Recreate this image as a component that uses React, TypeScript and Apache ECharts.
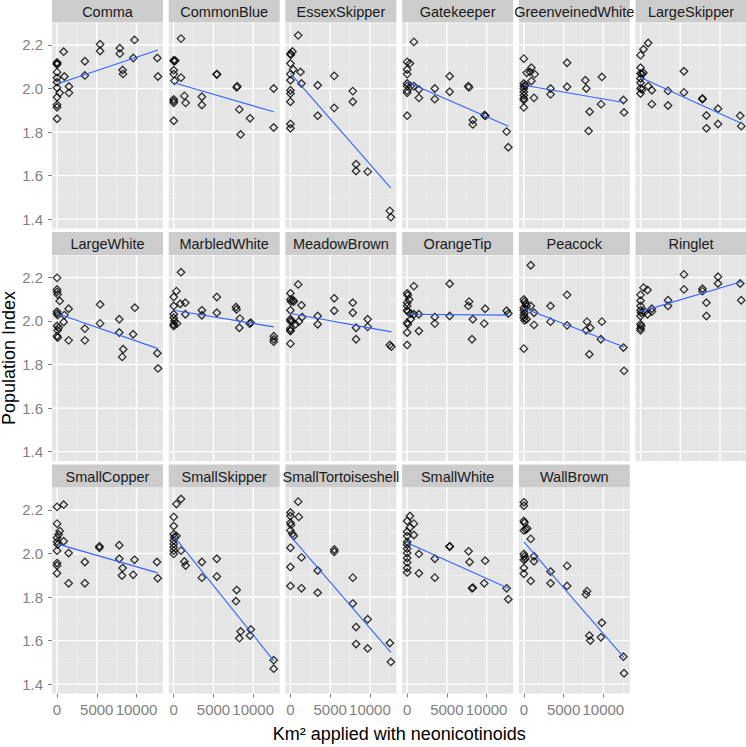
import React, { useEffect, useRef } from "react";
import * as echarts from "echarts";

// ---------- data ----------
const SPECIES = [
  "Comma", "CommonBlue", "EssexSkipper", "Gatekeeper", "GreenveinedWhite", "LargeSkipper",
  "LargeWhite", "MarbledWhite", "MeadowBrown", "OrangeTip", "Peacock", "Ringlet",
  "SmallCopper", "SmallSkipper", "SmallTortoiseshell", "SmallWhite", "WallBrown",
];

const comma = [[0,2.12],[0,2.115],[0,2.11],[833,2.169],[0,2.075],[0,2.049],[0,2.029],[917,2.055],[0,2.003],[333,1.98],[1500,2.009],[1500,1.98],[0,1.96],[0,1.925],[0,1.914],[0,1.861],[3500,2.125],[3500,2.06],[5420,2.203],[5420,2.172],[7900,2.185],[7900,2.16],[8250,2.085],[8300,2.067],[9750,2.223],[9600,2.14],[12620,2.14],[12700,2.055]];
const commonBlue = [[917,2.229],[0,2.13],[50,2.125],[200,2.128],[0,2.084],[0,2.066],[917,2.05],[100,2.035],[0,1.95],[0,1.942],[0,1.934],[1333,1.966],[1500,1.934],[0,1.852],[3540,1.962],[3540,1.924],[5420,2.066],[5420,2.064],[7920,2.005],[7980,2.01],[8250,1.904],[8420,1.789],[9600,1.863],[12580,2.0],[12580,1.821]];
const essexSkipper = [[970,2.244],[0,2.16],[50,2.155],[250,2.17],[0,2.115],[350,2.087],[0,2.066],[1260,2.076],[0,2.038],[1390,2.023],[0,1.992],[0,1.977],[0,1.939],[0,1.837],[0,1.817],[3430,2.015],[3430,1.875],[5510,2.058],[5510,1.911],[7850,1.988],[7850,1.939],[8260,1.652],[8260,1.621],[9720,1.618],[12510,1.438],[12640,1.409]];
const gatekeeper = [[850,2.214],[0,2.122],[350,2.115],[0,2.087],[0,2.066],[0,2.023],[0,2.011],[0,1.99],[0,1.98],[440,2.011],[850,2.011],[1480,1.995],[1480,1.957],[0,1.875],[3480,2.0],[3480,1.951],[5350,2.056],[5350,1.985],[7700,2.011],[7780,2.005],[8270,1.855],[8270,1.835],[9730,1.878],[9850,1.874],[12520,1.802],[12730,1.73]];
const greenveinedWhite = [[0,2.137],[950,2.095],[780,2.076],[1360,2.066],[360,2.072],[950,2.034],[0,2.023],[0,2.011],[0,2.0],[0,1.985],[0,1.969],[0,1.954],[0,1.947],[0,1.913],[200,2.015],[1280,1.957],[3360,2.0],[3360,1.973],[5440,2.118],[5440,2.008],[7740,2.038],[7860,2.0],[8280,1.893],[8150,1.805],[9820,2.053],[9720,1.928],[12530,1.947],[12610,1.89]];
const largeSkipper = [[960,2.209],[375,2.18],[0,2.153],[0,2.095],[0,2.069],[200,2.066],[350,2.072],[0,2.046],[0,2.026],[0,2.0],[200,1.995],[0,1.977],[960,2.011],[1420,1.992],[1420,1.928],[3460,1.989],[3460,1.922],[5460,2.079],[5460,1.982],[7790,1.954],[7790,1.951],[8290,1.876],[8290,1.817],[9750,1.907],[9750,1.837],[12540,1.875],[12670,1.827]];
const largeWhite = [[0,2.198],[0,2.145],[0,2.134],[80,2.122],[333,2.092],[0,2.043],[0,2.034],[80,2.027],[917,2.027],[1458,2.056],[833,1.995],[0,1.977],[200,1.969],[80,1.957],[0,1.931],[80,1.924],[1458,1.911],[3500,1.965],[3500,1.911],[5420,2.076],[5420,1.989],[7830,2.008],[7830,1.947],[8330,1.87],[8200,1.835],[9790,2.061],[9580,1.939],[12625,1.852],[12710,1.782]];
const marbledWhite = [[917,2.224],[333,2.137],[0,2.11],[833,2.079],[0,2.069],[1458,2.084],[0,2.031],[0,2.015],[80,2.0],[0,1.985],[0,1.977],[400,1.988],[1458,2.031],[3540,2.049],[3540,2.026],[5420,2.11],[5420,2.038],[7830,2.064],[7900,2.053],[8330,2.011],[8250,1.969],[9700,1.992],[9550,1.988],[12600,1.93],[12600,1.916],[12580,1.905]];
const meadowBrown = [[970,2.168],[0,2.127],[0,2.099],[350,2.095],[80,2.089],[420,2.089],[1390,2.072],[0,2.049],[0,2.008],[0,2.0],[200,1.997],[1050,1.997],[1470,2.018],[0,1.966],[0,1.957],[0,1.954],[640,1.985],[0,1.896],[3430,2.023],[3430,1.985],[5510,2.104],[5510,2.047],[7850,2.084],[7850,2.038],[8260,1.969],[8260,1.916],[9720,2.008],[9720,1.973],[12500,1.89],[12700,1.882]];
const orangeTip = [[850,2.16],[0,2.127],[80,2.118],[250,2.099],[0,2.084],[0,2.069],[0,2.049],[80,2.043],[440,2.034],[850,2.031],[1480,2.031],[0,1.992],[80,1.985],[0,1.947],[0,1.89],[440,2.008],[1480,1.954],[3480,2.018],[3480,1.988],[5350,2.171],[5350,2.023],[7800,2.089],[7700,2.069],[8270,2.008],[8160,1.916],[9820,2.056],[9700,1.988],[12520,2.047],[12730,2.034]];
const peacock = [[870,2.256],[0,2.099],[80,2.089],[250,2.08],[350,2.069],[0,2.061],[0,2.049],[80,2.038],[0,2.027],[0,2.015],[80,2.003],[350,2.008],[870,2.069],[1280,2.038],[1280,1.982],[0,1.873],[3360,2.069],[3360,1.997],[5440,2.12],[5440,1.98],[7950,1.997],[7820,1.957],[8360,1.969],[8240,1.847],[9820,1.997],[9700,1.916],[12530,1.878],[12610,1.771]];
const ringlet = [[375,2.153],[875,2.142],[0,2.12],[0,2.093],[0,2.069],[0,2.049],[80,2.038],[0,2.023],[0,1.985],[80,1.977],[0,1.966],[0,1.957],[540,2.043],[875,2.031],[1420,2.043],[1420,2.056],[3460,2.095],[3460,2.069],[5460,2.214],[5460,2.145],[7790,2.148],[7790,2.137],[8290,2.084],[8290,2.023],[9750,2.203],[9750,2.172],[12540,2.172],[12670,2.095]];
const smallCopper = [[0,2.214],[833,2.224],[0,2.137],[333,2.103],[200,2.087],[0,2.072],[0,2.053],[80,2.041],[833,2.056],[0,2.013],[1458,2.002],[0,1.956],[0,1.945],[0,1.909],[1458,1.863],[3500,1.961],[3500,1.863],[5330,2.033],[5330,2.026],[7830,2.038],[7830,1.976],[8250,1.933],[8170,1.899],[9750,1.971],[9580,1.902],[12580,1.961],[12670,1.886]];
const smallSkipper = [[333,2.227],[917,2.25],[0,2.168],[0,2.126],[0,2.088],[80,2.075],[0,2.06],[0,2.044],[0,2.029],[0,2.013],[0,1.998],[333,2.08],[917,2.013],[1333,1.963],[1500,1.945],[3540,1.961],[3540,1.889],[5420,1.976],[5420,1.894],[7920,1.832],[7830,1.781],[8420,1.642],[8250,1.611],[9700,1.651],[9600,1.623],[12580,1.51],[12580,1.471]];
const smallTortoiseshell = [[970,2.238],[0,2.188],[0,2.172],[1050,2.168],[0,2.141],[80,2.131],[0,2.106],[250,2.09],[420,2.08],[0,2.026],[0,1.938],[0,1.851],[1390,1.982],[1390,1.84],[3430,1.922],[3430,1.82],[5510,2.018],[5510,2.008],[7850,1.889],[7850,1.77],[8260,1.662],[8260,1.584],[9720,1.698],[9720,1.564],[12510,1.589],[12640,1.502]];
const smallWhite = [[350,2.172],[0,2.149],[850,2.137],[350,2.119],[0,2.1],[850,2.085],[0,2.08],[0,2.053],[0,2.041],[0,2.022],[0,2.002],[0,1.979],[0,1.959],[0,1.933],[0,1.913],[1480,1.998],[1480,1.909],[3480,1.976],[3480,1.889],[5350,2.033],[5350,2.031],[7730,2.01],[7860,1.961],[8270,1.843],[8160,1.84],[9820,1.967],[9700,1.863],[12520,1.84],[12730,1.79]];
const wallBrown = [[0,2.235],[0,2.219],[0,2.149],[80,2.141],[0,2.106],[250,2.11],[420,2.115],[870,2.067],[0,1.998],[80,1.987],[200,1.976],[0,1.971],[1280,1.987],[1280,1.964],[0,1.933],[0,1.907],[870,1.874],[3360,1.917],[3360,1.863],[5440,1.943],[5440,1.851],[7820,1.812],[7950,1.827],[8240,1.623],[8360,1.6],[9820,1.682],[9700,1.615],[12530,1.526],[12610,1.45]];

const POINTS = [
  comma, commonBlue, essexSkipper, gatekeeper, greenveinedWhite, largeSkipper,
  largeWhite, marbledWhite, meadowBrown, orangeTip, peacock, ringlet,
  smallCopper, smallSkipper, smallTortoiseshell, smallWhite, wallBrown,
];

// fitted line values at the smallest and largest x of each panel
const FIT_START = [2.021, 2.026, 2.069, 2.03, 2.015, 2.05, 2.034, 2.049, 2.034, 2.031, 2.058, 2.043, 2.044, 2.08, 2.08, 2.049, 2.053];
const FIT_END = [2.177, 1.893, 1.542, 1.827, 1.936, 1.84, 1.873, 1.973, 1.95, 2.027, 1.881, 2.18, 1.911, 1.507, 1.546, 1.84, 1.522];

const Y_TICKS = [1.4, 1.6, 1.8, 2.0, 2.2];
const Y_MINOR = [1.5, 1.7, 1.9, 2.1, 2.3];
const X_TICKS = [0, 5000, 10000];
const X_MINOR = [2500, 7500, 12500];
const X_RANGE = [-635, 13335];
const Y_RANGE = [1.357, 2.303];

const Y_TITLE = "Population Index";
const X_TITLE = "Km² applied with neonicotinoids";

// ---------- layout ----------
const W = 746;
const H = 747;
const COL_LEFT = 52;
const COL_PITCH = 116.7;
const PANEL_W = 111;
const ROW_TOP = 22.5;
const ROW_PITCH = 232.5;
const PANEL_H = 206;
const STRIP_H = 23;
const FONT = '"Liberation Sans", Arial, sans-serif';

function buildOption() {
  const grid: any[] = [];
  const xAxis: any[] = [];
  const yAxis: any[] = [];
  const series: any[] = [];
  const graphic: any[] = [];

  const gridData = [
    ...Y_MINOR.map((v) => [0, v, 1]),
    ...X_MINOR.map((v) => [v, 2, 3]),
    ...Y_TICKS.map((v) => [0, v, 0]),
    ...X_TICKS.map((v) => [v, 2, 2]),
  ];

  SPECIES.forEach((name, i) => {
    const r = Math.floor(i / 6);
    const c = i % 6;
    const left = COL_LEFT + c * COL_PITCH;
    const top = ROW_TOP + r * ROW_PITCH;
    grid.push({
      left, top, width: PANEL_W, height: PANEL_H,
      show: true, backgroundColor: "#e5e5e5", borderWidth: 0,
      containLabel: false, outerBoundsMode: "none",
    });
    const showX = r === 2;
    const showY = c === 0;
    xAxis.push({
      gridIndex: i, type: "value", min: X_RANGE[0], max: X_RANGE[1],
      axisLine: { show: false, onZero: false },
      splitLine: { show: false },
      axisTick: { show: showX, length: 4, customValues: X_TICKS, lineStyle: { color: "#7f7f7f", width: 1 } },
      axisLabel: {
        show: showX, customValues: X_TICKS, margin: 8, fontSize: 15, color: "#7f7f7f",
        fontFamily: FONT, hideOverlap: false, formatter: (v: number) => String(Math.round(v)),
        showMinLabel: true, showMaxLabel: true,
      },
    });
    yAxis.push({
      gridIndex: i, type: "value", min: Y_RANGE[0], max: Y_RANGE[1],
      axisLine: { show: false, onZero: false },
      splitLine: { show: false },
      axisTick: { show: showY, length: 4, customValues: Y_TICKS, lineStyle: { color: "#7f7f7f", width: 1 } },
      axisLabel: {
        show: showY, customValues: Y_TICKS, margin: 9, fontSize: 15, color: "#7f7f7f",
        fontFamily: FONT, formatter: (v: number) => v.toFixed(1), hideOverlap: false,
      },
    });
    series.push({
      type: "custom", xAxisIndex: i, yAxisIndex: i, z: 1, silent: true, clip: false,
      data: gridData,
      renderItem: (params: any, api: any) => {
        const cs = params.coordSys;
        const kind = api.value(2);
        const major = kind === 0 || kind === 2;
        const style = { stroke: major ? "#ffffff" : "#f2f2f2", lineWidth: major ? 1.4 : 0.7 };
        if (kind < 2) {
          const y = api.coord([0, api.value(1)])[1];
          return { type: "line", shape: { x1: cs.x, y1: y, x2: cs.x + cs.width, y2: y }, style };
        }
        const x = api.coord([api.value(0), 2])[0];
        return { type: "line", shape: { x1: x, y1: cs.y, x2: x, y2: cs.y + cs.height }, style };
      },
    });
    const pts = POINTS[i];
    series.push({
      type: "scatter", xAxisIndex: i, yAxisIndex: i, z: 3, silent: true,
      data: pts, symbol: "diamond", symbolSize: 7.5,
      itemStyle: { color: "rgba(0,0,0,0)", borderColor: "#000000", borderWidth: 1.3 },
    });
    const xs = pts.map((p) => p[0]);
    const x0 = Math.min(...xs);
    const x1 = Math.max(...xs);
    series.push({
      type: "line", xAxisIndex: i, yAxisIndex: i, z: 4, silent: true,
      data: [[x0, FIT_START[i]], [x1, FIT_END[i]]],
      symbol: "none", showSymbol: false,
      lineStyle: { color: "#3366ff", width: 1.1 },
    });
    graphic.push({
      type: "rect", silent: true,
      shape: { x: left, y: top - STRIP_H, width: PANEL_W, height: STRIP_H },
      style: { fill: "#cccccc" },
    });
    graphic.push({
      type: "text", silent: true, z: 10,
      x: left + PANEL_W / 2, y: top - STRIP_H / 2 + 0.5,
      style: {
        text: name, fill: "#1a1a1a", font: `14.5px ${FONT}`,
        align: "center", verticalAlign: "middle",
      },
    });
  });

  graphic.push({
    type: "text", silent: true,
    x: 9, y: ROW_TOP + (2 * ROW_PITCH + PANEL_H) / 2, rotation: Math.PI / 2,
    style: { text: Y_TITLE, fill: "#000000", font: `18px ${FONT}`, align: "center", verticalAlign: "middle" },
  });
  graphic.push({
    type: "text", silent: true,
    x: COL_LEFT + (5 * COL_PITCH + PANEL_W) / 2, y: 734,
    style: { text: X_TITLE, fill: "#000000", font: `18px ${FONT}`, align: "center", verticalAlign: "middle" },
  });

  return {
    animation: false,
    backgroundColor: "#ffffff",
    grid, xAxis, yAxis, series, graphic,
  };
}

export default function App() {
  const ref = useRef<HTMLDivElement>(null);
  useEffect(() => {
    if (!ref.current) return;
    const chart = echarts.init(ref.current, null, { renderer: "svg", width: W, height: H });
    chart.setOption(buildOption() as any);
    return () => chart.dispose();
  }, []);
  return (
    <div
      ref={ref}
      style={{ position: "absolute", left: 0, top: 0, width: W, height: H }}
    />
  );
}
